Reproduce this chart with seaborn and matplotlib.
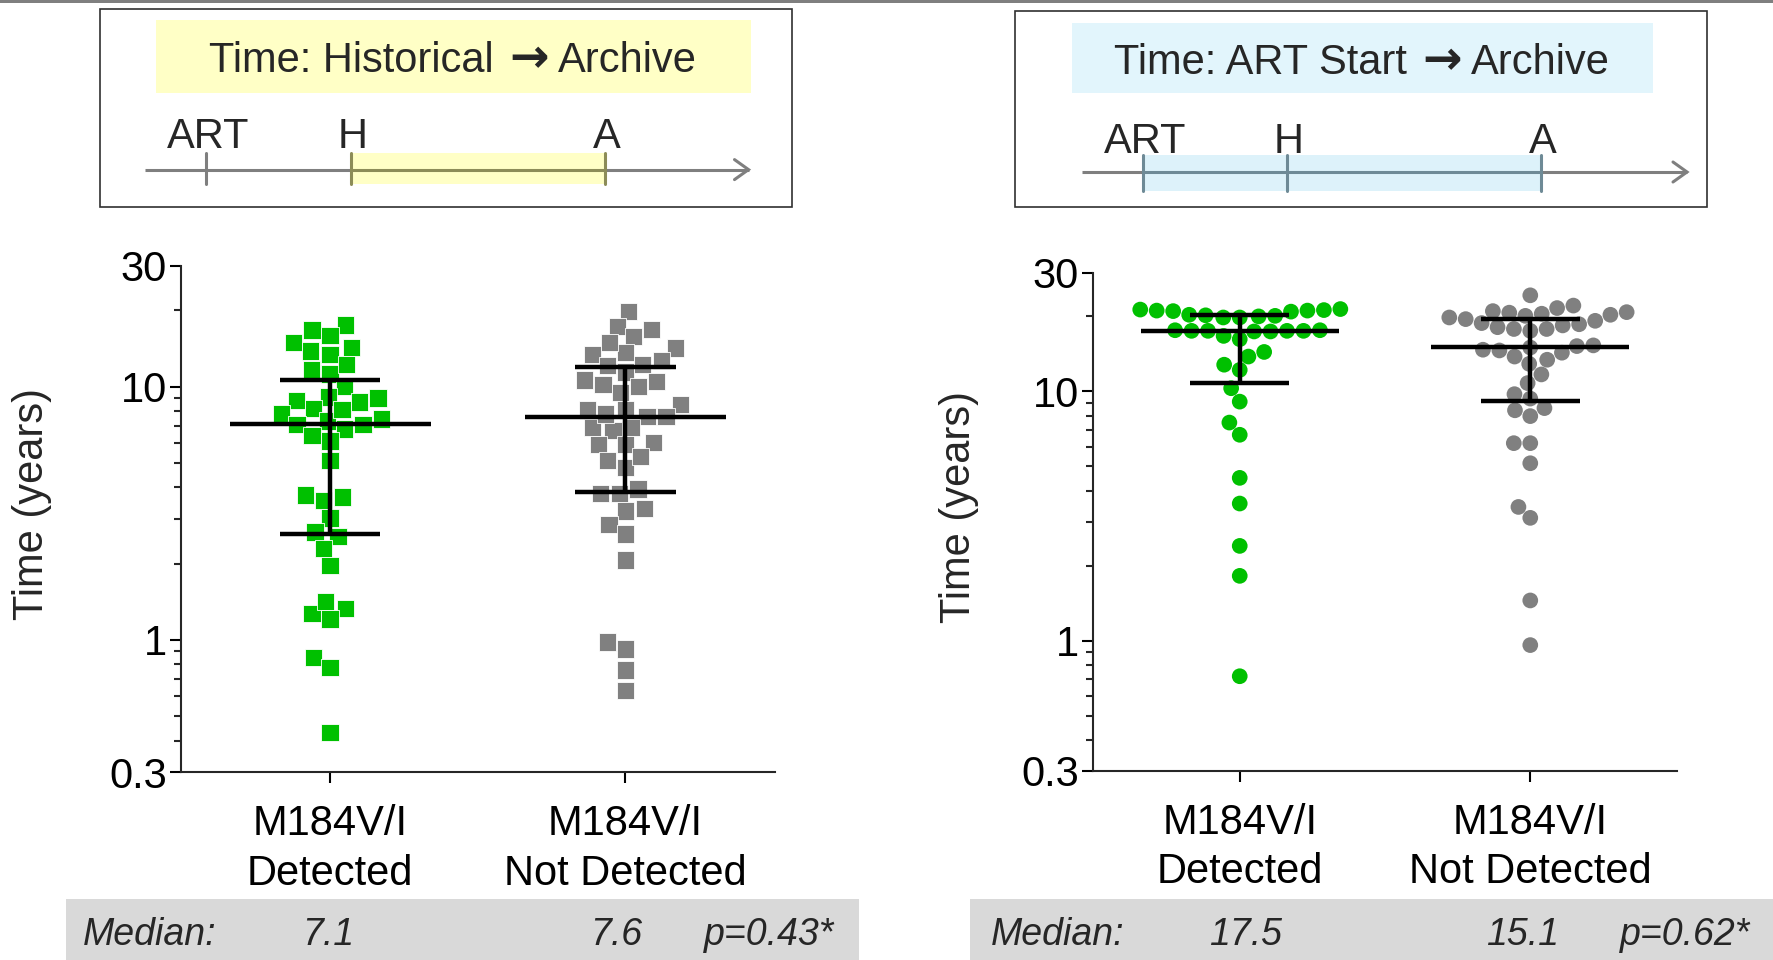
import numpy as np
import pandas as pd
import matplotlib
matplotlib.use("Agg")
import matplotlib.pyplot as plt
from matplotlib.patches import Rectangle
import seaborn as sns

# categories on the x axis
groups = ["M184V/I\nDetected", "M184V/I\nNot Detected"]

# time from historical genotype to archive sample (years)
hist_detected = [17.5, 15.9, 16.7, 13.4, 14.3, 14.9, 13.8, 11.7, 11.2, 12.2,
                 10.0, 9.0, 8.7, 8.8, 9.1, 8.2, 7.8, 7.3, 7.1, 6.8,
                 7.1, 7.45, 8.1, 6.4, 6.1, 5.1, 3.67, 3.54, 3.73, 3.03,
                 2.56, 2.67, 2.30, 1.97, 1.33, 1.21, 1.27, 1.42, 0.85, 0.78,
                 0.43]
hist_not_detected = [19.8, 17.3, 16.8, 15.8, 14.2, 13.6, 14.9, 13.4, 12.7, 12.1,
                     12.2, 10.6, 10.2, 11.4, 10.0, 10.5, 9.5, 8.5, 8.1, 7.6,
                     6.9, 6.7, 6.9, 7.6, 7.8, 8.1, 6.0, 5.9, 5.9, 5.1,
                     4.8, 5.3, 3.94, 3.78, 3.78, 3.30, 3.23, 2.85, 2.62, 2.07,
                     0.98, 0.92, 0.76, 0.63]

# time from ART start to archive sample (years)
art_detected = [21.3, 21.1, 21.0, 21.2, 20.9, 21.1, 21.4, 20.3, 20.1, 20.0,
                19.8, 19.8, 20.2, 17.6, 17.5, 17.5, 17.4, 17.6, 17.5, 17.4,
                17.5, 16.7, 16.2, 14.4, 13.8, 12.8, 12.2, 10.3, 9.1, 7.5,
                6.7, 4.5, 3.55, 2.4, 1.82, 0.72]
art_not_detected = [24.3, 22.1, 21.6, 21.0, 20.8, 20.5, 20.1, 19.5, 18.8, 18.4,
                    17.8, 17.5, 17.8, 18.1, 18.6, 19.2, 19.8, 20.3, 20.7, 15.3,
                    15.0, 14.6, 13.8, 14.3, 14.7, 15.2, 13.4, 12.9, 11.7, 10.8,
                    9.75, 9.36, 8.57, 8.4, 7.96, 6.2, 6.2, 5.15, 3.44, 3.11,
                    1.45, 0.96]

p_values = ["p=0.43*", "p=0.62*"]
panel_titles = [("Time: Historical", "Archive"), ("Time: ART Start", "Archive")]
y_ticks = [0.3, 1, 10, 30]
y_ticklabels = ["0.3", "1", "10", "30"]
y_minor = [0.4, 0.5, 0.6, 0.7, 0.8, 0.9, 2, 3, 4, 5, 6, 7, 8, 9, 20]

GREEN = "#00C000"
GREY = "#808080"

sns.set_style("ticks")
plt.rcParams["font.family"] = ["Liberation Sans", "DejaVu Sans"]
plt.rcParams["axes.linewidth"] = 1.5

W, H = 1773, 960
fig = plt.figure(figsize=(W / 100, H / 100), dpi=100)

# overlay in pixel coordinates for the header boxes and the median bands
over = fig.add_axes([0, 0, 1, 1], zorder=0)
over.set_xlim(0, W)
over.set_ylim(H, 0)
over.axis("off")


def draw_panel(rect, detected, not_detected, marker, size, ylabel_x):
    ax = fig.add_axes(rect, zorder=1)
    ax.patch.set_alpha(0)
    df = pd.DataFrame({
        "group": [groups[0]] * len(detected) + [groups[1]] * len(not_detected),
        "time": detected + not_detected,
    })
    sns.swarmplot(data=df, x="group", y="time", hue="group", order=groups,
                  hue_order=groups, palette=[GREEN, GREY], marker=marker,
                  size=size, linewidth=0.6 if marker == "s" else 0,
                  edgecolor="white", legend=False, log_scale=True, ax=ax,
                  zorder=2, warn_thresh=1)
    # median with interquartile range
    meds = []
    for i, vals in enumerate([detected, not_detected]):
        q1, med, q3 = np.percentile(vals, [25, 50, 75], method="weibull")
        meds.append(med)
        ax.hlines(med, i - 0.34, i + 0.34, color="black", lw=3.2, zorder=4)
        ax.vlines(i, q1, q3, color="black", lw=3.2, zorder=4)
        ax.hlines([q1, q3], i - 0.17, i + 0.17, color="black", lw=3.2, zorder=4)

    ax.set_ylim(0.3, 30)
    ax.set_xlim(-0.505, 1.505)
    ax.set_yticks(y_ticks, labels=y_ticklabels)
    ax.set_yticks(y_minor, minor=True)
    ax.set_yticklabels([], minor=True)
    sns.despine(ax=ax)
    ax.tick_params(axis="both", which="major", length=8, width=1.5,
                   labelsize=30, colors="black")
    ax.tick_params(axis="y", which="major", pad=2)
    ax.tick_params(axis="x", which="major", pad=15)
    ax.tick_params(axis="y", which="minor", length=5, width=1.5)
    for lab in ax.get_xticklabels():
        lab.set_linespacing(1.3)
    ax.set_xlabel("")
    ax.set_ylabel("Time (years)", fontsize=30)
    ax.yaxis.label.set_va("center")
    ax.yaxis.set_label_coords(ylabel_x, 0.53)
    return meds


meds_left = draw_panel([181 / W, 1 - 772.3 / H, 593.5 / W, 506.6 / H],
                       hist_detected, hist_not_detected, "s", 12.5, -0.251)
meds_right = draw_panel([1093 / W, 1 - 771 / H, 584 / W, 498.5 / H],
                        art_detected, art_not_detected, "o", 11.3, -0.2295)

# thin grey rule along the top edge
over.add_patch(Rectangle((0, 0), W, 3, color="#7f7f7f", lw=0))

renderer = fig.canvas.get_renderer()


def arrow_title(cx, base, left, right):
    # "left -> right" centred on cx; the arrow glyph comes from DejaVu Sans
    parts = [over.text(0, base, left, fontsize=30, va="baseline"),
             over.text(0, base, "\u2192", fontsize=34, va="baseline",
                       family="DejaVu Sans", weight="bold"),
             over.text(0, base, right, fontsize=30, va="baseline")]
    widths = [p.get_window_extent(renderer).width for p in parts]
    gaps = [15, 9]
    x = cx - (sum(widths) + sum(gaps)) / 2
    for p, w, g in zip(parts, widths, gaps + [0]):
        p.set_x(x)
        x += w + g


# header boxes with the timeline sketch
headers = [
    dict(box=(99.5, 9, 692, 198), title_box=(156, 20, 595, 73), title_fc="#FFFFC6",
         title_xy=(453, 72), line_y=169.6, line_x=(145, 748.5),
         marks=(205.8, 350.5, 605), band=(350.5, 605), band_fc="#FFFFC6",
         in_band="#8c8c58", mark_y=(152.6, 184.3), label_y=148),
    dict(box=(1015, 11, 692, 196), title_box=(1072, 22.6, 581, 70), title_fc="#E2F5FC",
         title_xy=(1362, 74), line_y=172, line_x=(1082, 1687),
         marks=(1143, 1287, 1541), band=(1143, 1541), band_fc="#DDF2FA",
         in_band="#6e8a96", mark_y=(155, 191), label_y=153),
]
for hd, (t_from, t_to) in zip(headers, panel_titles):
    bx, by, bw, bh = hd["box"]
    over.add_patch(Rectangle((bx, by), bw, bh, fill=False, ec="#303030", lw=1.2))
    tx, ty, tw, th = hd["title_box"]
    over.add_patch(Rectangle((tx, ty), tw, th, fc=hd["title_fc"], lw=0))
    arrow_title(hd["title_xy"][0], hd["title_xy"][1], t_from, t_to)
    b0, b1 = hd["band"]
    m0, m1 = hd["mark_y"]
    over.add_patch(Rectangle((b0, m0), b1 - b0, m1 - m0, fc=hd["band_fc"], lw=0))
    x0, x1 = hd["line_x"]
    ly = hd["line_y"]
    over.plot([x0, b0], [ly, ly], color="#7f7f7f", lw=2.2, solid_capstyle="butt")
    over.plot([b0, b1], [ly, ly], color=hd["in_band"], lw=2.2, solid_capstyle="butt")
    over.plot([b1, x1], [ly, ly], color="#7f7f7f", lw=2.2, solid_capstyle="butt")
    over.plot([x1 - 14, x1, x1 - 14], [ly - 10, ly, ly + 10], color="#7f7f7f",
              lw=2.2, solid_joinstyle="miter")
    for mx, lab in zip(hd["marks"], ["ART", "H", "A"]):
        col = hd["in_band"] if (b0 - 1 <= mx <= b1 + 1) else "#7f7f7f"
        over.plot([mx, mx], [m0, m1], color=col, lw=2.2)
        over.text(mx + 2, hd["label_y"], lab, fontsize=30, ha="center", va="baseline")

# median bands under each panel
bands = [((65.6, 899, 793.4, 61), (150, 328, 616, 769), meds_left, p_values[0]),
         ((970, 899, 803, 61), (1058, 1246, 1523, 1685), meds_right, p_values[1])]
for (rx, ry, rw, rh), xs, meds, pv in bands:
    over.add_patch(Rectangle((rx, ry), rw, rh, fc="#D9D9D9", lw=0))
    texts = ["Median:", f"{meds[0]:.1f}", f"{meds[1]:.1f}", pv]
    for x, t in zip(xs, texts):
        over.text(x, 935, t, fontsize=27, style="italic", ha="center", va="center")

fig.savefig("out.png", dpi=100, facecolor="white")
